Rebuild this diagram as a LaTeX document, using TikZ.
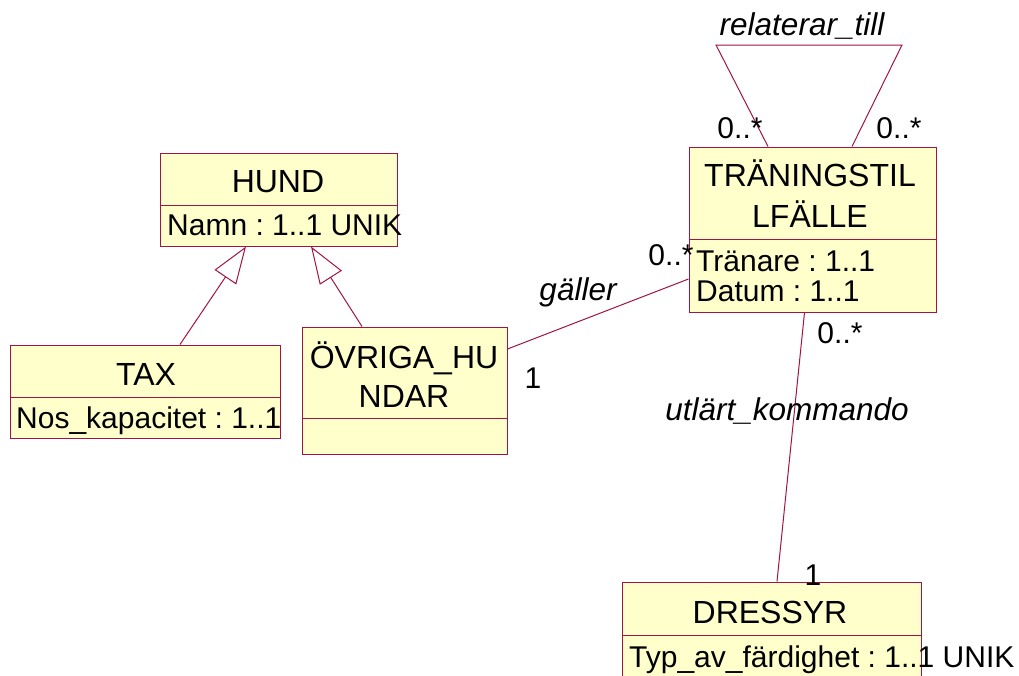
\documentclass[tikz,border=0pt]{standalone}
\usepackage{fontspec}
\setmainfont{Liberation Sans}
\usetikzlibrary{arrows.meta, positioning, calc}

\definecolor{umlred}{RGB}{160,20,70}
\definecolor{umlfill}{RGB}{255,255,204}
\newcommand{\umlfont}{\fontsize{30}{36}\selectfont\frenchspacing}
\newcommand{\umltitlefont}{\fontsize{32}{38}\selectfont}
\newcommand{\umllabelfont}{\fontsize{31.5}{38}\selectfont\itshape}

\begin{document}
\begin{tikzpicture}[
        x=1pt, y=-1pt,
        classbox/.style={rectangle, draw=umlred, fill=umlfill, line width=1pt, inner sep=0pt},
        classline/.style={draw=umlred, line width=1pt},
        classtitle/.style={font=\umltitlefont, inner sep=0pt, anchor=base},
        classattr/.style={font=\umlfont, inner sep=0pt, anchor=base west},
        assoc/.style={draw=umlred, line width=1pt},
        genarrow/.style={draw=umlred, line width=1pt, -{Triangle[open, fill=white, length=37pt, width=26pt]}},
        mult/.style={font=\umlfont, inner sep=0pt, anchor=base},
        rolelabel/.style={font=\umllabelfont, inner sep=0pt, anchor=base}
    ]
        \clip (0,0) rectangle (1019,675);
        \fill[white] (0,0) rectangle (1019,675);

        % classes
        \node[classbox, minimum width=237, minimum height=93] (hund) at (278.5,199.5) {};
        \node[classbox, minimum width=270, minimum height=93] (tax) at (145,391.5) {};
        \node[classbox, minimum width=205, minimum height=127] (ovriga) at (404.5,390.5) {};
        \node[classbox, minimum width=247, minimum height=165] (trn) at (812.5,229.5) {};
        \node[classbox, minimum width=299, minimum height=118] (dressyr) at (771.5,641) {};

        \draw[classline] ([yshift=-5.5]hund.west) -- ([yshift=-5.5]hund.east);
        \draw[classline] ([yshift=-5.5]tax.west) -- ([yshift=-5.5]tax.east);
        \draw[classline] ([yshift=-27.5]ovriga.west) -- ([yshift=-27.5]ovriga.east);
        \draw[classline] ([yshift=-9.5]trn.west) -- ([yshift=-9.5]trn.east);
        \draw[classline] ([yshift=6]dressyr.west) -- ([yshift=6]dressyr.east);

        \node[classtitle] (hundname) at (278,192) {HUND};
        \node[classattr] (hundattr) at (167,235) {Namn : 1..1 UNIK};
        \node[classtitle] (taxname) at (146,385) {TAX};
        \node[classattr] (taxattr) at (16,428) {Nos\_kapacitet : 1..1};
        \node[classtitle] (ovriganame1) at (404,368) {ÖVRIGA\_HU};
        \node[classtitle] (ovriganame2) at (404,407) {NDAR};
        \node[classtitle] (trnname1) at (810,186) {TRÄNINGSTIL};
        \node[classtitle] (trnname2) at (810,227) {LFÄLLE};
        \node[classattr] (trnattr1) at (696,271) {Tränare : 1..1};
        \node[classattr] (trnattr2) at (696,301) {Datum : 1..1};
        \node[classtitle] (dressyrname) at (770,623) {DRESSYR};
        \node[classattr] (dressyrattr) at (629,667) {Typ\_av\_färdighet : 1..1 UNIK};

        % associations
        \coordinate (selfleft) at (716,45);
        \coordinate (selfright) at (902,45);
        \draw[assoc] ([xshift=-44.5]trn.north) -- (selfleft) -- (selfright) -- ([xshift=39.5]trn.north);
        \draw[assoc] ([yshift=41.5]ovriga.east) -- ([yshift=-49.5]trn.west);
        \draw[assoc] ([xshift=-8]trn.south) -- ([xshift=5.5]dressyr.north);

        % generalisations
        \draw[genarrow] ([xshift=35]tax.north) -- ([xshift=-32.5]hund.south);
        \draw[genarrow] ([xshift=-42.5]ovriga.north) -- ([xshift=32.5]hund.south);

        % labels
        \node[rolelabel] (relaterar) at (802,35) {relaterar\_till};
        \node[mult] (selfmultl) at (740,138) {0..*};
        \node[mult] (selfmultr) at (899,138) {0..*};
        \node[mult] (gallermultr) at (671,265) {0..*};
        \node[rolelabel] (galler) at (578,300) {gäller};
        \node[mult] (gallermultl) at (533,388) {1};
        \node[mult] (utlartmultt) at (840,343) {0..*};
        \node[rolelabel] (utlart) at (787,420) {utlärt\_kommando};
        \node[mult] (utlartmultb) at (813,585) {1};
    \end{tikzpicture}
\end{document}
